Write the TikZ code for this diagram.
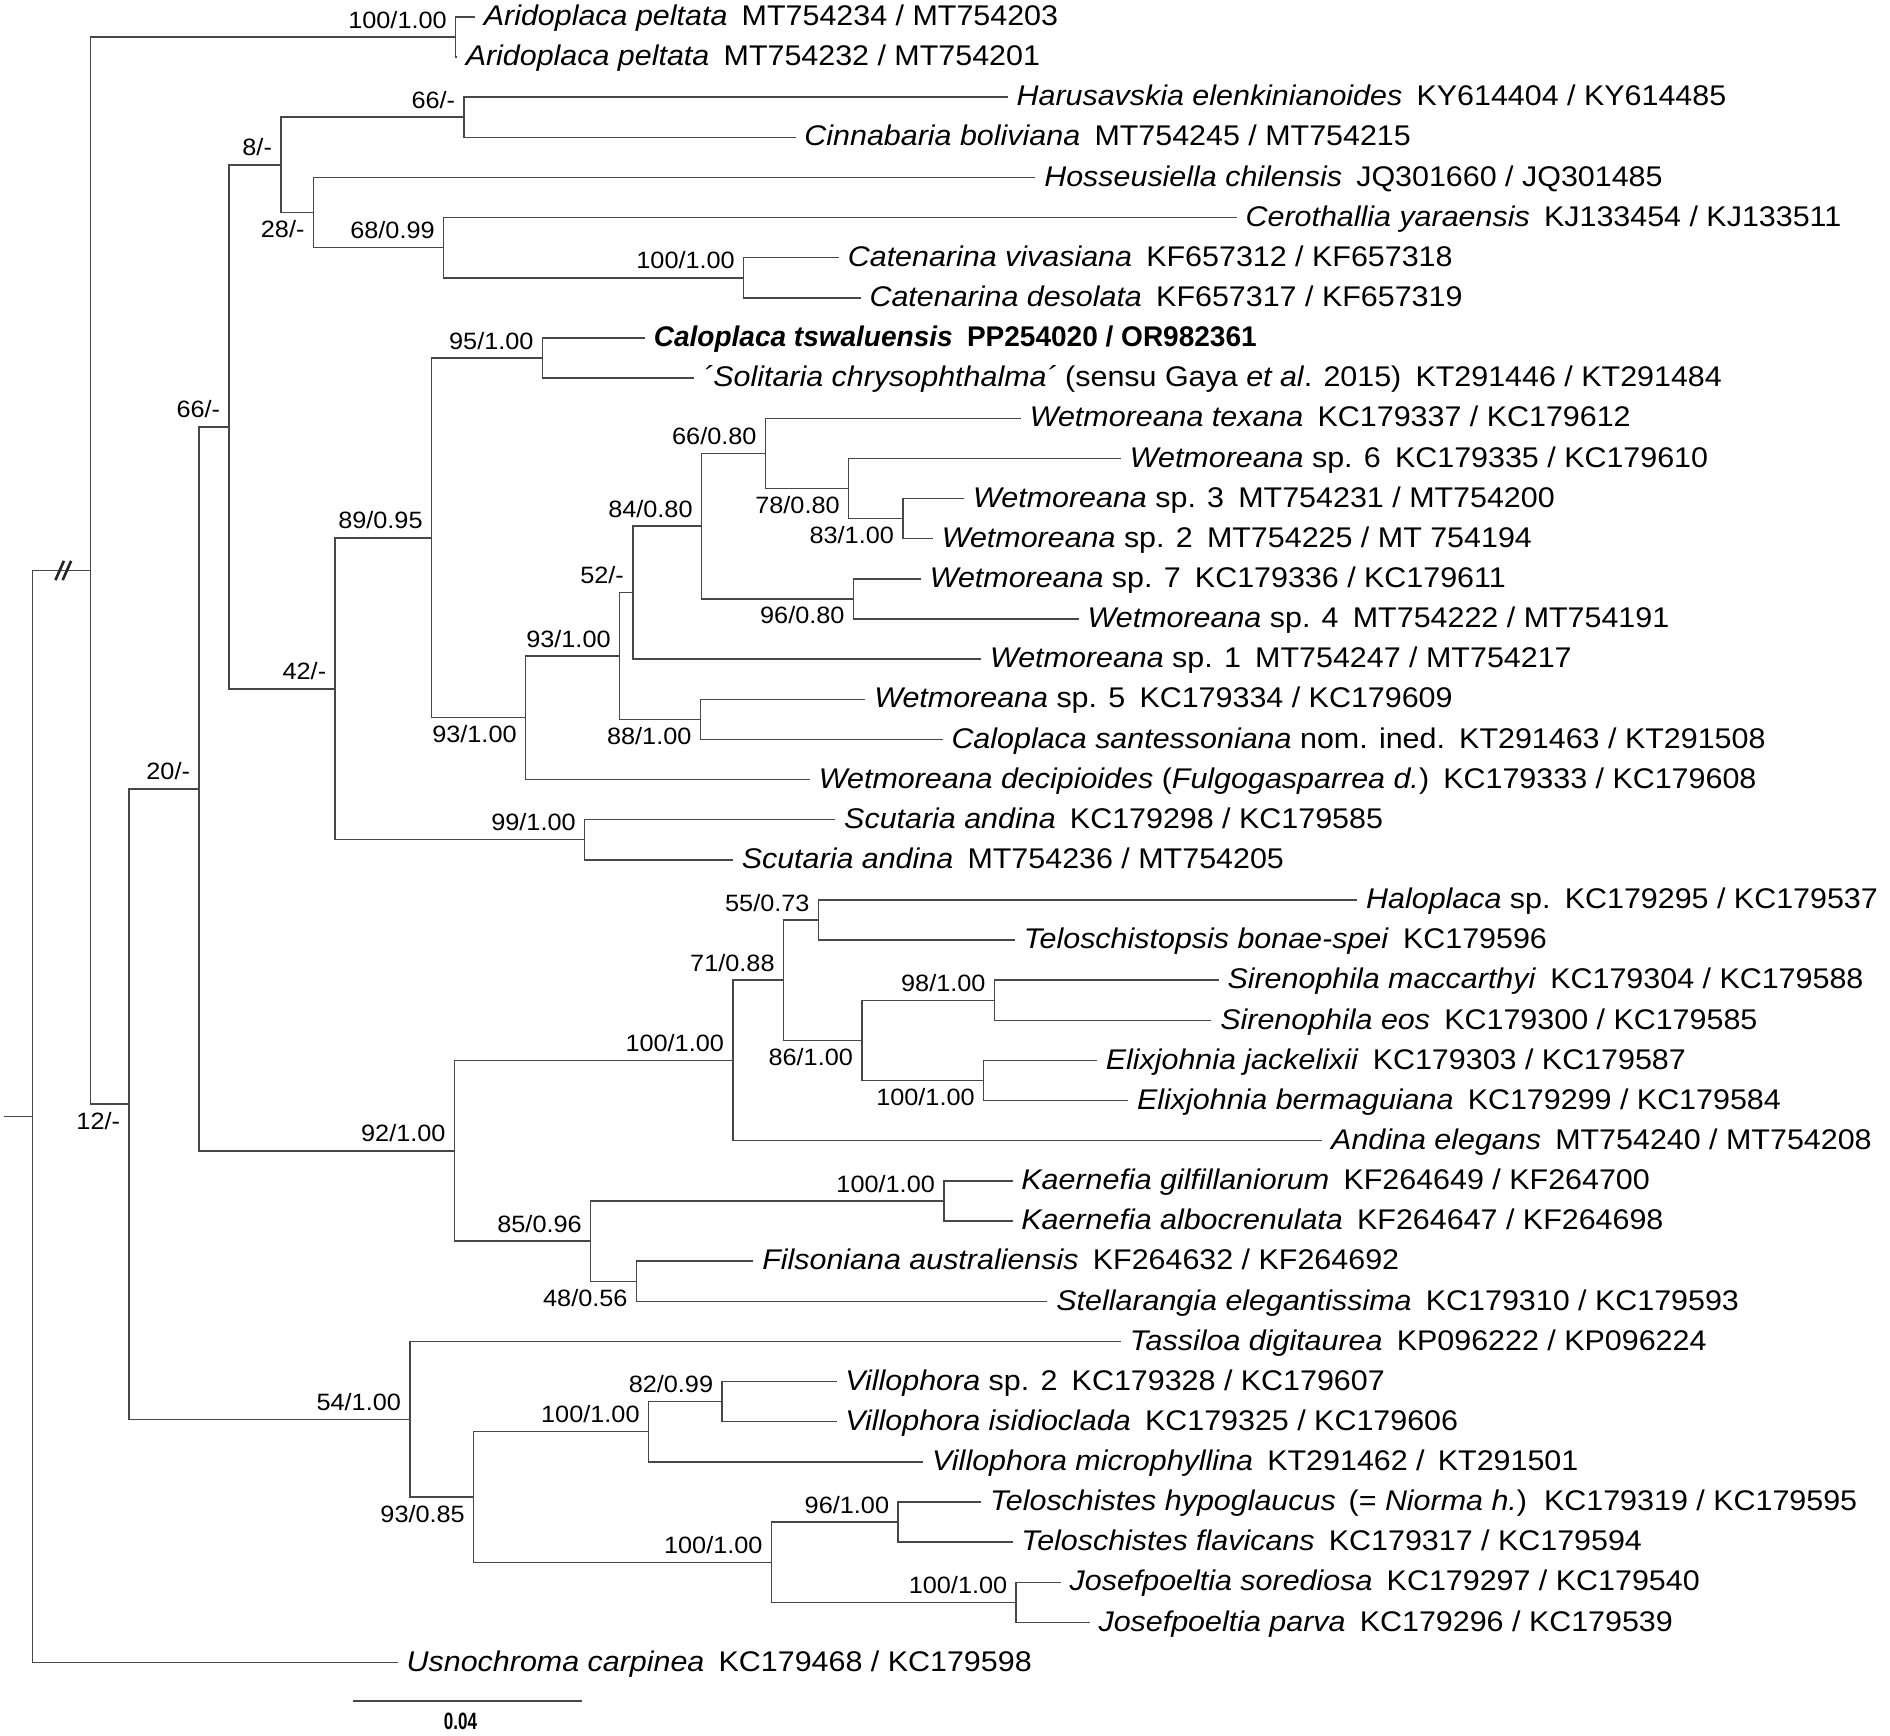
\documentclass[tikz,border=0pt]{standalone}
\usepackage{fontspec}
\setmainfont{Liberation Sans}[FakeStretch=1.07]
\newfontfamily\barfont{Liberation Sans}[FakeStretch=0.72]
\newfontfamily\boldnarrow{Liberation Sans}[FakeStretch=0.985]
\usetikzlibrary{calc}
\tikzset{
  br/.style={draw=black!72, line width=0.6pt},
  slashmark/.style={draw=black!85, line width=1.1pt},
  leaflab/.style={anchor=west, inner xsep=3.5pt, inner ysep=0pt, text height=0.72em, text depth=0pt, font=\fontsize{11.8}{13}\selectfont},
  labA/.style={anchor=south east, inner sep=0pt, text height=0.72em, text depth=0pt, xshift=-3.5pt, yshift=3.5pt, font=\fontsize{9.8}{11}\selectfont},
  labB/.style={anchor=north east, inner sep=0pt, text height=0.72em, text depth=0pt, xshift=-3.5pt, yshift=-3pt, font=\fontsize{9.8}{11}\selectfont},
}
\newcommand\mkleaf[4]{%
  \coordinate (#1) at (#2,{14+33.3*(#3-1)});
  \node[leaflab] (#1t) at (#1) {#4};}
\newcommand\mkbranch[4]{%
  \coordinate (tmp) at ($(#3)!0.5!(#4)$);
  \coordinate (#1) at (#2,0 |- tmp);
  \draw[br] (#1) |- (#3);
  \draw[br] (#1) |- (#4);}
\newcommand\mkclade[6]{%
  \mkbranch{#1}{#2}{#3}{#4}
  \node[lab#5] (#1l) at (#1) {#6};}
\newcommand\sep{\hspace{0.5em}}
\begin{document}
\begin{tikzpicture}[x=0.5pt,y=-0.5pt]
\useasboundingbox (0,0) rectangle (1568,1440);
% leaves
\mkleaf{L1}{394}{1}{\textit{Aridoplaca peltata}\sep MT754234 / MT754203}
\mkleaf{L2}{379}{2}{\textit{Aridoplaca peltata}\sep MT754232 / MT754201}
\mkleaf{L3}{836}{3}{\textit{Harusavskia elenkinianoides}\sep KY614404 / KY614485}
\mkleaf{L4}{660}{4}{\textit{Cinnabaria boliviana}\sep MT754245 / MT754215}
\mkleaf{L5}{859}{5}{\textit{Hosseusiella chilensis}\sep JQ301660 / JQ301485}
\mkleaf{L6}{1026}{6}{\textit{Cerothallia yaraensis}\sep KJ133454 / KJ133511}
\mkleaf{L7}{696}{7}{\textit{Catenarina vivasiana}\sep KF657312 / KF657318}
\mkleaf{L8}{714}{8}{\textit{Catenarina desolata}\sep KF657317 / KF657319}
\mkleaf{L9}{535}{9}{\boldnarrow\bfseries\textit{Caloplaca tswaluensis}\sep PP254020 / OR982361}
\mkleaf{L10}{576}{10}{\textit{´Solitaria chrysophthalma´} (sensu Gaya \textit{et al}. 2015)\sep KT291446 / KT291484}
\mkleaf{L11}{847}{11}{\textit{Wetmoreana texana}\sep KC179337 / KC179612}
\mkleaf{L12}{930}{12}{\textit{Wetmoreana} sp. 6\sep KC179335 / KC179610}
\mkleaf{L13}{800}{13}{\textit{Wetmoreana} sp. 3\sep MT754231 / MT754200}
\mkleaf{L14}{774}{14}{\textit{Wetmoreana} sp. 2\sep MT754225 / MT 754194}
\mkleaf{L15}{764}{15}{\textit{Wetmoreana} sp. 7\sep KC179336 / KC179611}
\mkleaf{L16}{895}{16}{\textit{Wetmoreana} sp. 4\sep MT754222 / MT754191}
\mkleaf{L17}{814}{17}{\textit{Wetmoreana} sp. 1\sep MT754247 / MT754217}
\mkleaf{L18}{718}{18}{\textit{Wetmoreana} sp. 5\sep KC179334 / KC179609}
\mkleaf{L19}{782}{19}{\textit{Caloplaca santessoniana} nom. ined.\sep KT291463 / KT291508}
\mkleaf{L20}{672}{20}{\textit{Wetmoreana decipioides} (\textit{Fulgogasparrea d.})\sep KC179333 / KC179608}
\mkleaf{L21}{693}{21}{\textit{Scutaria andina}\sep KC179298 / KC179585}
\mkleaf{L22}{608}{22}{\textit{Scutaria andina}\sep MT754236 / MT754205}
\mkleaf{L23}{1126}{23}{\textit{Haloplaca} sp.\sep KC179295 / KC179537}
\mkleaf{L24}{842}{24}{\textit{Teloschistopsis bonae-spei}\sep KC179596}
\mkleaf{L25}{1011}{25}{\textit{Sirenophila maccarthyi}\sep KC179304 / KC179588}
\mkleaf{L26}{1005}{26}{\textit{Sirenophila eos}\sep KC179300 / KC179585}
\mkleaf{L27}{910}{27}{\textit{Elixjohnia jackelixii}\sep KC179303 / KC179587}
\mkleaf{L28}{936}{28}{\textit{Elixjohnia bermaguiana}\sep KC179299 / KC179584}
\mkleaf{L29}{1097}{29}{\textit{Andina elegans}\sep MT754240 / MT754208}
\mkleaf{L30}{840}{30}{\textit{Kaernefia gilfillaniorum}\sep KF264649 / KF264700}
\mkleaf{L31}{840}{31}{\textit{Kaernefia albocrenulata}\sep KF264647 / KF264698}
\mkleaf{L32}{625}{32}{\textit{Filsoniana australiensis}\sep KF264632 / KF264692}
\mkleaf{L33}{869}{33}{\textit{Stellarangia elegantissima}\sep KC179310 / KC179593}
\mkleaf{L34}{930}{34}{\textit{Tassiloa digitaurea}\sep KP096222 / KP096224}
\mkleaf{L35}{694}{35}{\textit{Villophora} sp. 2\sep KC179328 / KC179607}
\mkleaf{L36}{694}{36}{\textit{Villophora isidioclada}\sep KC179325 / KC179606}
\mkleaf{L37}{766}{37}{\textit{Villophora microphyllina}\sep KT291462 / \,KT291501}
\mkleaf{L38}{814}{38}{\textit{Teloschistes hypoglaucus}\hspace{0.45em}(= \textit{Niorma h.})\hspace{0.6em}KC179319 / KC179595}
\mkleaf{L39}{840}{39}{\textit{Teloschistes flavicans}\sep KC179317 / KC179594}
\mkleaf{L40}{880}{40}{\textit{Josefpoeltia sorediosa}\sep KC179297 / KC179540}
\mkleaf{L41}{904}{41}{\textit{Josefpoeltia parva}\sep KC179296 / KC179539}
\mkleaf{L42}{330}{42}{\textit{Usnochroma carpinea}\sep KC179468 / KC179598}
% clades
\mkclade{nAri}{378}{L1}{L2}{A}{100/1.00}
\mkclade{nHar}{385}{L3}{L4}{A}{66/-}
\mkclade{nCat}{617}{L7}{L8}{A}{100/1.00}
\mkclade{n68}{368}{L6}{nCat}{A}{68/0.99}
\mkclade{n28}{260}{L5}{n68}{B}{28/-}
\mkclade{n8}{233}{nHar}{n28}{A}{8/-}
\mkclade{n95}{450}{L9}{L10}{A}{95/1.00}
\mkclade{n83}{749}{L13}{L14}{B}{83/1.00}
\mkclade{n78}{704}{L12}{n83}{B}{78/0.80}
\mkclade{n66b}{635}{L11}{n78}{A}{66/0.80}
\mkclade{n96}{708}{L15}{L16}{B}{96/0.80}
\mkclade{n84}{582}{n66b}{n96}{A}{84/0.80}
\mkclade{n52}{525}{n84}{L17}{A}{52/-}
\mkclade{n88}{581}{L18}{L19}{B}{88/1.00}
\mkclade{n93u}{514}{n52}{n88}{A}{93/1.00}
\mkclade{n93l}{436}{n93u}{L20}{B}{93/1.00}
\mkclade{n89}{358}{n95}{n93l}{A}{89/0.95}
\mkclade{n99}{485}{L21}{L22}{A}{99/1.00}
\mkclade{n42}{278}{n89}{n99}{A}{42/-}
\mkclade{n66a}{190}{n8}{n42}{A}{66/-}
\mkclade{n55}{679}{L23}{L24}{A}{55/0.73}
\mkclade{n98}{825}{L25}{L26}{A}{98/1.00}
\mkclade{n100e}{816}{L27}{L28}{B}{100/1.00}
\mkclade{n86}{715}{n98}{n100e}{B}{86/1.00}
\mkclade{n71}{650}{n55}{n86}{A}{71/0.88}
\mkclade{n100a}{608}{n71}{L29}{A}{100/1.00}
\mkclade{nKae}{783}{L30}{L31}{A}{100/1.00}
\mkclade{n48}{528}{L32}{L33}{B}{48/0.56}
\mkclade{n85}{490}{nKae}{n48}{A}{85/0.96}
\mkclade{n92}{377}{n100a}{n85}{A}{92/1.00}
\mkclade{n20}{165}{n66a}{n92}{A}{20/-}
\mkclade{n82}{599}{L35}{L36}{A}{82/0.99}
\mkclade{n100v}{538}{n82}{L37}{A}{100/1.00}
\mkclade{n96t}{745}{L38}{L39}{A}{96/1.00}
\mkclade{n100j}{843}{L40}{L41}{A}{100/1.00}
\mkclade{n100t}{640}{n96t}{n100j}{A}{100/1.00}
\mkclade{n93b}{393}{n100v}{n100t}{B}{93/0.85}
\mkclade{n54}{340}{L34}{n93b}{A}{54/1.00}
\mkclade{n12}{107}{n20}{n54}{B}{12/-}
\mkbranch{ning}{75}{nAri}{n12}
\mkbranch{nroot}{27}{ning}{L42}
\coordinate (rstem) at (3,0 |- nroot);
\draw[br] (rstem) -- (nroot);
% break marks
\draw[slashmark] ($(ning)+(-29,8)$) -- ++(7,-16);
\draw[slashmark] ($(ning)+(-23,8)$) -- ++(7,-16);
% scale bar
\coordinate (sb1) at (293,1411);
\coordinate (sb2) at (483,1411);
\draw[br] (sb1) -- (sb2);
\node[anchor=north, inner sep=0pt, text height=0.72em, text depth=0pt, font=\barfont\bfseries\fontsize{9.8}{11}\selectfont, xshift=-3pt, yshift=-4.5pt] (sbl) at ($(sb1)!0.5!(sb2)$) {0.04};
\end{tikzpicture}
\end{document}
